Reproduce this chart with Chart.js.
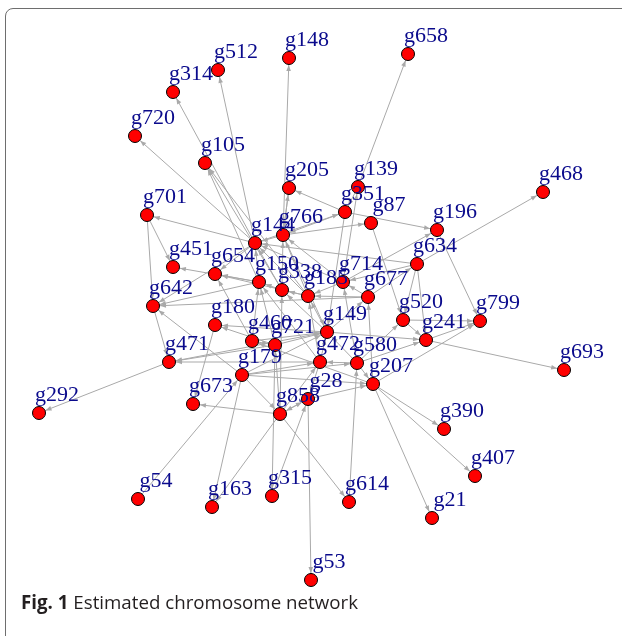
<!DOCTYPE html>
<html>
<head>
<meta charset="utf-8">
<script src="https://cdn.jsdelivr.net/npm/chart.js@4/dist/chart.umd.min.js"></script>
<style>
  html, body { margin: 0; padding: 0; background: #fff; width: 622px; height: 636px; overflow: hidden; }
  #frame { position: absolute; left: 5px; top: 8px; width: 700px; height: 700px;
           border: 1px solid #6e6e6e; border-radius: 8px; box-sizing: border-box; }
  #wrap { position: absolute; left: 0; top: 0; width: 622px; height: 636px; }
  #caption { position: absolute; left: 21px; top: 593px; font-family: "Open Sans", "Noto Sans", sans-serif;
             font-size: 19px; line-height: 19px; color: #231f20; white-space: nowrap;
             transform: scaleX(0.985); transform-origin: 0 0; }
  #caption b { font-weight: 700; }
</style>
</head>
<body>
<div id="frame"></div>
<div id="wrap"><canvas id="c" width="622" height="636"></canvas></div>
<div id="caption"><b>Fig. 1</b> Estimated chromosome network</div>
<script>
// ---- data: network layout ----
const nodeNames = ["g148","g658","g512","g314","g720","g105","g205","g139","g468","g701",
  "g351","g87","g196","g766","g144","g634","g451","g654","g150","g714",
  "g338","g185","g677","g642","g520","g799","g180","g149","g241","g460",
  "g721","g471","g472","g580","g693","g179","g207","g28","g673","g858",
  "g292","g390","g407","g54","g315","g614","g163","g21","g53"];
const nodeX = [289,408,218,173,135,205,289,358,543,147,
  345,371,437,283,255,417,173,215,259,343,
  282,308,368,153,403,480,215,327,426,252,
  275,169,320,357,564,242,373,308,193,280,
  39,444,475,138,272,349,212,432,311];
const nodeY = [58,54,70,92,136,163,188,187,192,215,
  212,223,230,235,243,264,267,274,282,282,
  290,296,297,306,320,321,325,332,340,341,
  345,362,362,363,370,375,384,399,404,414,
  413,429,476,499,496,502,507,518,580];
// edges: source -> target (arrow at target)
const edgeFrom = ["g766","g139","g144","g144","g144","g150","g338","g185","g351","g766",
  "g351","g714","g634","g351","g196","g714","g87","g766","g351","g144",
  "g701","g701","g144","g150","g144","g150","g677","g642","g179","g471",
  "g721","g149","g472","g149","g180","g721","g144","g150","g185","g460",
  "g185","g338","g150","g766","g714","g634","g714","g185","g338","g766",
  "g338","g460","g721","g472","g185","g149","g858","g714","g677","g149",
  "g472","g634","g677","g580","g677","g149","g207","g634","g634","g520",
  "g241","g520","g580","g241","g580","g149","g207","g207","g207","g207",
  "g28","g580","g179","g721","g460","g472","g580","g179","g580","g179",
  "g858","g614","g179","g460","g721","g858","g207","g54","g179","g858",
  "g858","g28","g858","g858","g28","g315","g472","g179","g205","g139"];
const edgeTo = ["g148","g658","g512","g314","g720","g105","g105","g105","g205","g205",
  "g149","g139","g468","g196","g799","g196","g520","g87","g766","g351",
  "g451","g642","g701","g451","g642","g642","g642","g471","g642","g292",
  "g471","g471","g471","g180","g673","g180","g654","g654","g654","g654",
  "g144","g144","g144","g144","g144","g144","g766","g766","g766","g149",
  "g150","g150","g150","g150","g338","g338","g338","g185","g185","g185",
  "g185","g714","g714","g714","g634","g677","g677","g520","g241","g241",
  "g799","g799","g520","g693","g241","g241","g799","g390","g407","g21",
  "g207","g207","g207","g149","g149","g149","g149","g149","g472","g472",
  "g472","g580","g580","g721","g315","g721","g460","g179","g163","g673",
  "g163","g858","g614","g28","g53","g28","g28","g858","g766","g351"];

// ---- build ----
const idx = {};
nodeNames.forEach((n, i) => idx[n] = i);
const NODE_R = 6.5;
const EDGE_COLOR = "#a9a9a9";

const edgeDatasets = edgeFrom.map((s, k) => {
  const a = idx[s], b = idx[edgeTo[k]];
  return {
    label: s + "->" + edgeTo[k],
    data: [{x: nodeX[a], y: nodeY[a]}, {x: nodeX[b], y: nodeY[b]}],
    showLine: true, borderColor: EDGE_COLOR, borderWidth: 1,
    pointRadius: 0, pointHoverRadius: 0, order: 2
  };
});

const nodeDataset = {
  label: "nodes",
  data: nodeNames.map((n, i) => ({x: nodeX[i], y: nodeY[i], name: n})),
  pointRadius: NODE_R, pointHoverRadius: NODE_R,
  backgroundColor: "#ff0000", borderColor: "#000000", borderWidth: 1,
  showLine: false, order: 0
};

const arrowPlugin = {
  id: "arrows",
  beforeDatasetDraw(chart, args) {
    if (args.index !== 0) return;
    const ctx = chart.ctx, xs = chart.scales.x, ys = chart.scales.y;
    ctx.save();
    ctx.fillStyle = EDGE_COLOR;
    edgeFrom.forEach((s, k) => {
      const a = idx[s], b = idx[edgeTo[k]];
      const x1 = xs.getPixelForValue(nodeX[a]), y1 = ys.getPixelForValue(nodeY[a]);
      const x2 = xs.getPixelForValue(nodeX[b]), y2 = ys.getPixelForValue(nodeY[b]);
      const dx = x2 - x1, dy = y2 - y1, L = Math.hypot(dx, dy);
      if (L < 1) return;
      const ux = dx / L, uy = dy / L;
      const tx = x2 - ux * (NODE_R + 0.5), ty = y2 - uy * (NODE_R + 0.5);
      const len = 6, hw = 2.3;
      const bx = tx - ux * len, by = ty - uy * len;
      ctx.beginPath();
      ctx.moveTo(tx, ty);
      ctx.lineTo(bx - uy * hw, by + ux * hw);
      ctx.lineTo(bx + uy * hw, by - ux * hw);
      ctx.closePath();
      ctx.fill();
    });
    ctx.restore();
  }
};

const labelPlugin = {
  id: "labels",
  afterDatasetsDraw(chart) {
    const ctx = chart.ctx, xs = chart.scales.x, ys = chart.scales.y;
    ctx.save();
    ctx.font = '22px "Liberation Serif", "Times New Roman", serif';
    ctx.fillStyle = "#0a0a8c";
    ctx.textAlign = "center";
    ctx.textBaseline = "alphabetic";
    nodeNames.forEach((n, i) => {
      const px = xs.getPixelForValue(nodeX[i]), py = ys.getPixelForValue(nodeY[i]);
      ctx.fillText(n, px + 18, py - 12);
    });
    ctx.restore();
  }
};

new Chart(document.getElementById("c"), {
  type: "scatter",
  data: { datasets: [nodeDataset, ...edgeDatasets] },
  options: {
    responsive: false, animation: false,
    layout: { padding: 0, autoPadding: false },
    plugins: { legend: { display: false }, tooltip: { enabled: false } },
    events: [],
    scales: {
      x: { type: "linear", min: 0, max: 622, display: false },
      y: { type: "linear", min: 0, max: 636, reverse: true, display: false }
    }
  },
  plugins: [arrowPlugin, labelPlugin]
});
</script>
</body>
</html>
